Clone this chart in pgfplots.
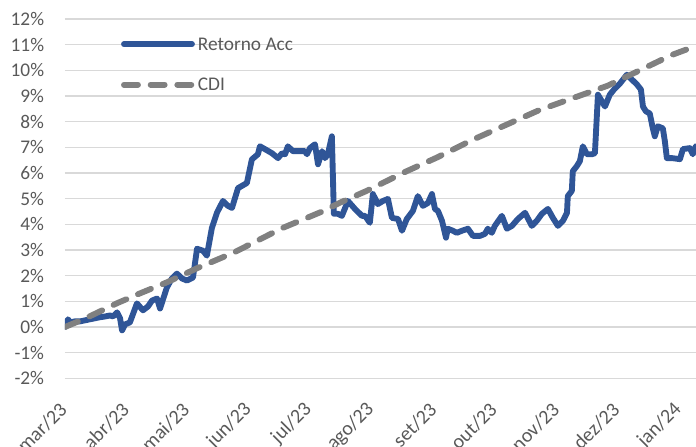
\documentclass[border=0pt]{standalone}
\usepackage{fontspec}
\setmainfont{Carlito}
\usepackage{pgfplots}
\pgfplotsset{compat=1.18}
\definecolor{retblue}{HTML}{2F5597}
\definecolor{cdigray}{HTML}{808080}
\definecolor{gridgray}{HTML}{D9D9D9}
\definecolor{labgray}{HTML}{595959}
\begin{document}
\begin{tikzpicture}
\begin{axis}[
  scale only axis,
  width=473.25pt, height=269.5pt,
  xmin=0, xmax=314, ymin=-2, ymax=12,
  axis line style={draw=none},
  ytick={-2,-1,...,12},
  yticklabels={-2\%,-1\%,0\%,1\%,2\%,3\%,4\%,5\%,6\%,7\%,8\%,9\%,10\%,11\%,12\%},
  xtick={0,31,61,92,122,153,184,214,245,275,306},
  xticklabels={mar/23,abr/23,mai/23,jun/23,jul/23,ago/23,set/23,out/23,nov/23,dez/23,jan/24},
  major tick length=0pt,
  ymajorgrids,
  grid style={gridgray, line width=1.1pt},
  tick label style={font=\fontsize{14.5}{17}\selectfont, text=labgray},
  yticklabel style={anchor=east, inner sep=0pt, xshift=-15.5pt},
  xticklabel style={font=\fontsize{15}{18}\selectfont, inner sep=0pt, xshift=-1pt, yshift=-21pt, rotate=45, anchor=east},
  legend cell align=left,
  legend style={at={(axis cs:26.4,10.23)}, anchor=west, draw=none, fill=none,
    inner sep=0pt, outer sep=0pt, row sep=17.75pt,
    font=\fontsize{14.5}{17}\selectfont, text=labgray,
    nodes={inner sep=0pt, text height=11pt, text depth=1.6pt},
    /tikz/every even column/.append style={column sep=3.75pt}},
  legend image code/.code={\draw[#1] (2.25pt,0pt) -- (53.25pt,0pt); \path (0pt,0pt) (55.5pt,0pt);},
]
\addplot[retblue, line width=4.4pt, line join=round, line cap=round] coordinates {
(0,0) (1.5,0.30) (2.5,0.18) (5,0.22) (7.5,0.22) (10,0.26) (12.4,0.30) (14.9,0.34)
(17.4,0.38) (19.9,0.41) (22.4,0.45) (23.9,0.41) (25.9,0.57) (27.4,0.34) (28.4,-0.13)
(29.9,0.10) (32.3,0.18) (35.8,0.92) (38.8,0.65) (41.3,0.80) (43.3,1.03) (45.8,1.11)
(47.3,0.72) (50.7,1.54) (53.2,1.89) (55.7,2.08) (58.2,1.89) (60.7,1.81) (63.7,1.93)
(65.7,3.05) (68.7,2.97) (70.6,2.78) (73.1,3.86) (75.6,4.45) (78.6,4.91) (81.1,4.72)
(83.1,4.64) (86.1,5.41) (90.5,5.61) (93.0,6.53) (96.0,6.73) (97.0,7.04) (99.5,6.93)
(103.0,6.77) (106.0,6.58) (108.0,6.77) (109.5,6.73) (110.9,7.04) (113.4,6.85)
(116.9,6.85) (119.4,6.85) (120.4,6.73) (121.9,6.97) (124.4,7.12) (125.9,6.34)
(127.9,6.85) (129.4,6.58) (130.8,6.73) (132.8,7.43) (133.8,4.41) (135.8,4.41)
(137.8,4.33) (140.8,4.91) (144.3,4.60) (147.8,4.33) (149.3,4.33) (151.7,4.06)
(153.2,5.18) (155.7,4.79) (158.2,4.91) (160.7,4.99) (162.7,4.25) (165.7,4.21)
(167.7,3.75) (170.1,4.21) (173.1,4.52) (175.6,5.10) (178.1,4.72) (180.6,4.83)
(182.6,5.18) (184.1,4.60) (185.6,4.52) (187.6,4.14) (189.6,3.48) (190.5,3.83)
(193.0,3.75) (195.0,3.67) (197.5,3.75) (200.5,3.83) (203.0,3.55) (206.5,3.55)
(209.0,3.63) (210.4,3.83) (212.4,3.67) (213.9,3.94) (217.4,4.33) (219.9,3.83)
(222.4,3.94) (225.4,4.21) (228.9,4.45) (232.3,3.94) (234.8,4.14) (237.3,4.41)
(240.3,4.60) (242.8,4.25) (245.3,3.94) (247.8,4.14) (249.8,4.45) (250.2,5.10)
(252.2,5.30) (252.7,6.07) (254.7,6.27) (256.2,6.46) (257.7,7.04) (259.7,6.73)
(262.2,6.73) (263.7,6.77) (265.2,9.05) (268.7,8.59) (271.1,9.05) (273.6,9.29)
(276.1,9.48) (279.6,9.83) (282.1,9.64) (284.6,9.45) (286.6,9.25) (287.6,8.59)
(289.1,8.40) (291.0,8.32) (292.5,7.74) (293.5,7.43) (295.0,7.82) (297.5,7.74)
(298.5,7.24) (299.5,6.58) (302.0,6.58) (306.0,6.54) (307.5,6.93) (310.9,6.97)
(312.4,6.73) (313.9,7.04)
};
\addlegendentry{Retorno Acc}
\addplot[cdigray, line width=4.4pt, line cap=round, dash pattern=on 10.5pt off 9.5pt] coordinates {
(0,0) (10,0.33) (26,0.93) (37,1.30) (51,1.75) (66,2.30) (84,2.90) (108,3.85)
(128,4.50) (137,4.85) (150,5.30) (170,6.07) (185,6.60) (203,7.30) (236,8.45)
(270,9.40) (302,10.60) (314,10.95)
};
\addlegendentry{CDI}
\coordinate (ll) at (rel axis cs:0,0);
\coordinate (ur) at (rel axis cs:1,1);
\end{axis}
\pgfresetboundingbox
\path[use as bounding box] ([xshift=-48.75pt,yshift=-50.8pt]ll) rectangle ([yshift=14.25pt]ur);
\end{tikzpicture}
\end{document}
